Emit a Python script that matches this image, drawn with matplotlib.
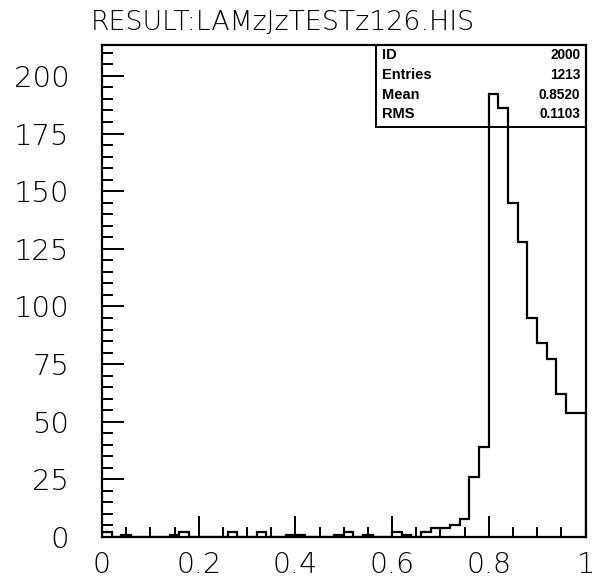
import numpy as np
import matplotlib
matplotlib.use("Agg")
import matplotlib.pyplot as plt
from matplotlib.ticker import MultipleLocator, FixedLocator
from matplotlib.patches import Rectangle

# ---- data ----
title = "RESULT:LAMzJzTESTz126.HIS"
x_min, x_max, n_bins = 0.0, 1.0, 50
counts = [2, 0, 1, 0, 0, 0, 0, 1, 2, 0,
          0, 0, 0, 2, 0, 0, 2, 0, 0, 1,
          1, 0, 0, 0, 1, 2, 0, 1, 0, 0,
          2, 1, 0, 2, 4, 4, 5, 8, 26, 39,
          192, 186, 145, 128, 95, 84, 77, 62, 54, 54]
x_ticks = [0, 0.2, 0.4, 0.6, 0.8, 1.0]
x_tick_labels = ["0", "0.2", "0.4", "0.6", "0.8", "1"]
y_ticks = [0, 25, 50, 75, 100, 125, 150, 175, 200]
stat_names = ["ID", "Entries", "Mean", "RMS"]
stat_values = ["2000", "1213", "0.8520", "0.1103"]

edges = np.linspace(x_min, x_max, n_bins + 1)

fig = plt.figure(figsize=(5.94, 5.79), dpi=100)
ax = fig.add_axes([0.1717, 0.0725, 0.8140, 0.8498])

ax.stairs(counts, edges, color="black", linewidth=1.6, baseline=0)

ax.set_xlim(0, 1)
ax.set_ylim(0, 213.4)

ax.xaxis.set_major_locator(FixedLocator(x_ticks))
ax.set_xticklabels(x_tick_labels)
ax.xaxis.set_minor_locator(MultipleLocator(0.05))
ax.yaxis.set_major_locator(FixedLocator(y_ticks))
ax.yaxis.set_minor_locator(MultipleLocator(5))

ax.tick_params(axis="both", which="both", direction="in", top=False, right=False,
               color="black")
ax.tick_params(axis="y", which="major", length=16, width=1.4, labelsize=21, pad=23.5)
ax.tick_params(axis="y", which="minor", length=8, width=1.4)
ax.tick_params(axis="x", which="major", length=15, width=1.4, labelsize=20.5, pad=10)
ax.tick_params(axis="x", which="minor", length=7.5, width=1.4)
for lab in ax.get_xticklabels() + ax.get_yticklabels():
    lab.set_fontweight("light")

for s in ax.spines.values():
    s.set_linewidth(1.6)

fig.text(0.152, 0.962, title, fontsize=19.3, ha="left", va="center",
         fontweight="light")

# stats box
box = Rectangle((0.567, 0.833), 0.433, 0.167, transform=ax.transAxes,
                fill=False, edgecolor="black", linewidth=1.4, clip_on=False)
ax.add_patch(box)
row_y = [0.980, 0.939, 0.898, 0.860]
for name, val, yy in zip(stat_names, stat_values, row_y):
    ax.text(0.579, yy, name, transform=ax.transAxes, fontsize=10.5,
            fontweight="bold", family="Liberation Sans", ha="left", va="center")
    ax.text(0.989, yy, val, transform=ax.transAxes, fontsize=9.8,
            fontweight="bold", family="Liberation Sans", ha="right", va="center")

fig.savefig("out.png", dpi=100)
